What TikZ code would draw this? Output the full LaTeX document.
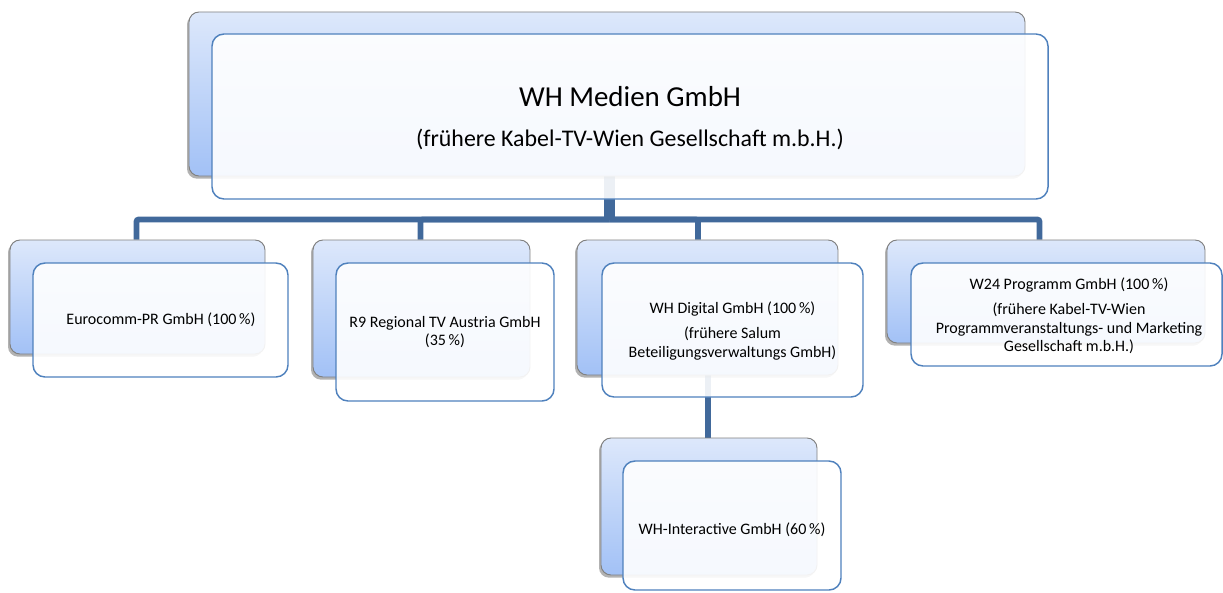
\documentclass[tikz,border=0pt]{standalone}
\usepackage{fontspec}
\setmainfont{Carlito}
\usetikzlibrary{shadows,fit,calc}
\pgfdeclarelayer{bg}
\pgfsetlayers{bg,main}
\definecolor{connc}{HTML}{41699B}
\definecolor{frontline}{HTML}{4F81BD}
\definecolor{backtop}{HTML}{DDE8FB}
\definecolor{backbot}{HTML}{A2C1F6}
\definecolor{backline}{HTML}{808080}
\begin{document}
\begin{tikzpicture}[x=0.75pt,y=-0.75pt,
  backbox/.style={draw=backline, line width=0.7pt, rounded corners=7.5pt, inner sep=0pt,
    top color=backtop, bottom color=backbot,
    drop shadow={shadow xshift=-1.5pt, shadow yshift=-2pt, opacity=0.3, fill=black}},
  frontbox/.style={draw=frontline, line width=1.1pt, rounded corners=9pt, inner sep=0pt,
    fill=white, fill opacity=0.9},
  childtext/.style={align=center, font=\fontsize{12}{14}\selectfont, inner sep=0pt},
  connline/.style={draw=connc, line width=4.2pt, rounded corners=1.5pt},
  trunkline/.style={draw=connc, line width=8.2pt}]
\useasboundingbox (0,0) rectangle (1223,592);
% boxes
\node[backbox, fit={(189,12) (1025,176)}] (topB) {};
\node[frontbox, fit={(212,34) (1048,199)}] (topF) {};
\node[font=\fontsize{21.7}{26}\selectfont] (topT1) at (630,97) {WH Medien GmbH};
\node[font=\fontsize{17.9}{21}\selectfont] (topT2) at (630,139) {(frühere Kabel-TV-Wien Gesellschaft m.b.H.)};
\node[backbox, fit={(10,240) (265,354)}] (eB) {};
\node[frontbox, fit={(33,263) (288,377)}] (eF) {};
\node[childtext] (eT) at (161,320) {Eurocomm-PR GmbH (100\,\%)};
\node[backbox, fit={(313,240) (530,377)}] (rB) {};
\node[frontbox, fit={(336,263) (554,401)}] (rF) {};
\node[childtext] (rT) at (445,332) {R9 Regional TV Austria GmbH\\(35\,\%)};
\node[backbox, fit={(577,240) (838,375)}] (dB) {};
\node[frontbox, fit={(602,263) (863,397)}] (dF) {};
\node[childtext] (dT) at (732.5,331) {WH Digital GmbH (100\,\%)\\[4.5pt](frühere Salum\\Beteiligungsverwaltungs GmbH)};
\node[backbox, fit={(887,240) (1205,343)}] (wB) {};
\node[frontbox, fit={(911,263) (1222,366)}] (wF) {};
\node[childtext] (wT) at (1069,316) {W24 Programm GmbH (100\,\%)\\[4.5pt](frühere Kabel-TV-Wien\\Programmveranstaltungs- und Marketing\\Gesellschaft m.b.H.)};
\node[backbox, fit={(601,438) (817,575)}] (iB) {};
\node[frontbox, fit={(623,461) (841,590)}] (iF) {};
\node[childtext] (iT) at (732,530) {WH-Interactive GmbH (60\,\%)};
% connectors (behind the boxes)
\begin{pgfonlayer}{bg}
\coordinate (tb) at ($(topB.south |- 0,219.5)+(2.5,0)$);
\draw[trunkline] ($(topB.south)+(2.5,0)$) -- (tb);
\draw[connline] (tb) -| ($(eB.north)+(-1,0)$);
\draw[connline] (tb) -| ($(rB.north)+(-1,0)$);
\draw[connline] (tb) -| ($(dB.north)+(-9.5,0)$);
\draw[connline] (tb) -| ($(wB.north)+(-6.5,0)$);
\draw[connline] ($(dB.south)+(0.5,0)$) -- ($(dB.south |- iB.north)+(0.5,0)$);
\end{pgfonlayer}
\end{tikzpicture}
\end{document}
